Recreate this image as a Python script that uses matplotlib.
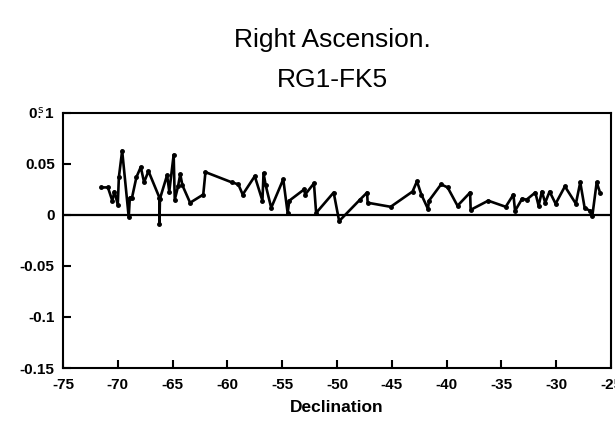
import numpy as np
import matplotlib
matplotlib.use("Agg")
import matplotlib.pyplot as plt

plt.rcParams['font.family'] = ['Liberation Sans', 'DejaVu Sans']

# declination (deg) and RA difference RG1-FK5 (s)
dec = [-71.5, -70.9, -70.5, -70.3, -70.0, -69.9, -69.6, -69.0, -68.9, -68.7,
       -68.3, -67.9, -67.6, -67.2, -66.2, -66.2, -66.15, -65.5, -65.3, -64.9,
       -64.8, -64.5, -64.3, -64.1, -63.4, -62.2, -62.0, -59.6, -59.0, -58.6,
       -57.5, -56.8, -56.7, -56.5, -56.0, -54.9, -54.5, -54.35, -53.0, -52.9,
       -52.1, -51.9, -50.3, -49.8, -47.9, -47.25, -47.2, -45.1, -43.1, -42.7,
       -42.3, -41.7, -41.6, -40.5, -39.9, -39.0, -37.85, -37.8, -36.2, -34.6,
       -33.9, -33.75, -33.1, -32.7, -31.9, -31.6, -31.3, -31.0, -30.6, -30.05,
       -29.2, -28.2, -27.8, -27.4, -26.9, -26.7, -26.3, -26.0]
diff = [0.027, 0.027, 0.014, 0.023, 0.010, 0.037, 0.063, -0.002, 0.017, 0.017,
        0.037, 0.047, 0.032, 0.043, 0.017, -0.009, 0.016, 0.039, 0.023, 0.059,
        0.015, 0.028, 0.040, 0.029, 0.012, 0.020, 0.042, 0.032, 0.030, 0.020,
        0.038, 0.014, 0.041, 0.029, 0.007, 0.035, 0.002, 0.014, 0.025, 0.020,
        0.031, 0.002, 0.022, -0.006, 0.015, 0.022, 0.012, 0.008, 0.023, 0.033,
        0.020, 0.006, 0.014, 0.030, 0.027, 0.009, 0.022, 0.005, 0.014, 0.008,
        0.020, 0.004, 0.016, 0.015, 0.022, 0.009, 0.023, 0.012, 0.023, 0.011,
        0.028, 0.011, 0.032, 0.007, 0.004, -0.001, 0.032, 0.022]

xticks = [-75, -70, -65, -60, -55, -50, -45, -40, -35, -30, -25]
xticklabels = ['-75', '-70', '-65', '-60', '-55', '-50', '-45', '-40', '-35', '-30', '-25']
yticks = [0.1, 0.05, 0, -0.05, -0.1, -0.15]
yticklabels = [r'0$\overset{\mathrm{s}}{.}$1', '0.05', '0', '-0.05', '-0.1', '-0.15']

fig = plt.figure(figsize=(6.15, 4.23), dpi=100)
ax = fig.add_axes([0.1024, 0.130, 0.891, 0.603])

ax.axhline(0, color='black', lw=1.6, zorder=1)
ax.plot(dec, diff, color='black', lw=1.9, marker='o', ms=2.5, zorder=2)

ax.set_xlim(-75, -25)
ax.set_ylim(-0.15, 0.1)
ax.set_xticks(xticks)
ax.set_xticklabels(xticklabels, fontweight='bold', fontsize=11)
ax.set_yticks(yticks)
ax.set_yticklabels(yticklabels, fontweight='bold', fontsize=11)
ax.tick_params(direction='in', length=6, width=1.5, pad=7)
ax.tick_params(axis='y', pad=6)
for s in ax.spines.values():
    s.set_linewidth(1.5)

ax.set_xlabel('Declination', fontsize=12.5, fontweight='bold', labelpad=6)
fig.text(0.54, 0.905, 'Right Ascension.', ha='center', va='center', fontsize=19)
fig.text(0.54, 0.812, 'RG1-FK5', ha='center', va='center', fontsize=19)

fig.savefig('out.png', dpi=100)
